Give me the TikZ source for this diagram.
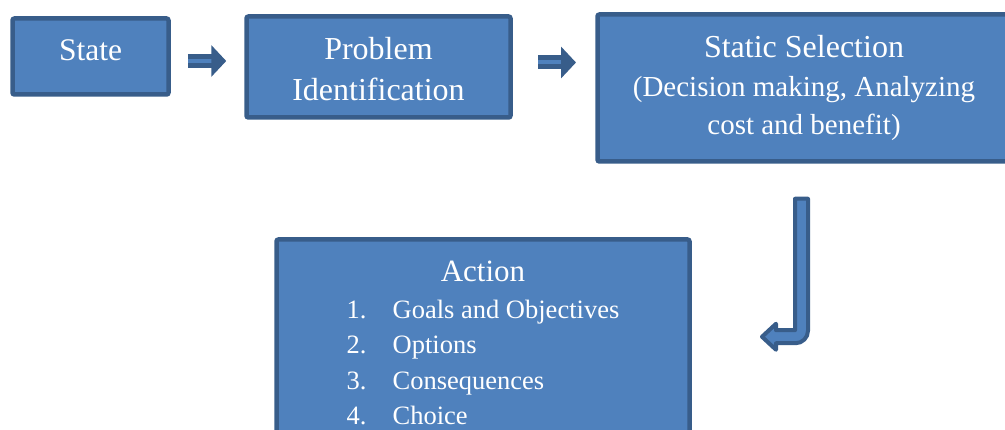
\documentclass[tikz,border=0pt]{standalone}
\usepackage{fontspec}
\setmainfont{Liberation Serif}
\usepackage{xcolor}
\usepackage{tikz}
\usetikzlibrary{arrows.meta,calc}

\definecolor{boxfill}{HTML}{4F81BD}
\definecolor{boxline}{HTML}{385D8A}

\begin{document}
\begin{tikzpicture}[
  x=1pt, y=1pt,
  box/.style={draw=boxline, fill=boxfill, line width=4.5pt, rounded corners=2pt,
              text=white, inner sep=2pt},
  blockarrow/.style={draw=boxline, line width=5pt, double=boxfill, double distance=4pt,
                     -{Triangle[length=15pt, width=31pt]}},
  bentarrow/.style={draw=boxline, fill=boxfill, line width=4pt, line join=round}
]
  \useasboundingbox (0,0) rectangle (1005,-430);
  \clip (0,0) rectangle (1005,-430);

  % top row
  \node[box, minimum width=156, minimum height=76, text height=21, text depth=12,
        font=\fontsize{31.5}{40}\selectfont] (state) at (90.5,-56.5) {State};
  \node[box, minimum width=264, minimum height=101, text height=21, text depth=35,
        font=\fontsize{32}{41}\selectfont] (problem) at (378.5,-67)
    {\begin{tabular}[t]{@{}c@{}}Problem\\Identification\end{tabular}};
  \node[box, minimum width=413, minimum height=147, text height=22, text depth=82,
        font=\fontsize{29}{38.5}\selectfont] (static) at (804,-88)
    {\begin{tabular}[t]{@{}c@{}}{\fontsize{32}{38.5}\selectfont Static Selection}\\
      (Decision making, Analyzing\\cost and benefit)\end{tabular}};

  % action box with the list of steps
  \node[box, minimum width=413, minimum height=230, text height=25, text depth=170,
        font=\fontsize{26.5}{35.5}\selectfont] (action) at (483,-354.5)
    {\begin{tabular}[t]{@{}p{46pt}@{}l@{}}
      \multicolumn{2}{c}{\fontsize{31}{35.5}\selectfont Action}\\[1pt]
      1. & Goals and Objectives\\
      2. & Options\\
      3. & Consequences\\
      4. & Choice
    \end{tabular}};

  % arrows
  \draw[blockarrow] ($(state.east)+(17,-4.5)$) -- ($(problem.west)+(-18,6)$);
  \draw[blockarrow] ($(problem.east)+(25.25,4.5)$) -- ($(static.west)+(-19.25,25.5)$);

  \coordinate (jtop) at ($(static.south)+(-2.5,-35)$);
  \draw[bentarrow] (jtop) ++(6.5,0) -- ++(0,-132)
    arc[start angle=0, end angle=-90, radius=12.5] -- ++(-19.5,0) -- ++(0,-6.5)
    -- ++(-14,13) -- ++(14,13) -- ++(0,-6.5) -- ++(19,0) -- ++(0,131.5) -- cycle;
\end{tikzpicture}
\end{document}
